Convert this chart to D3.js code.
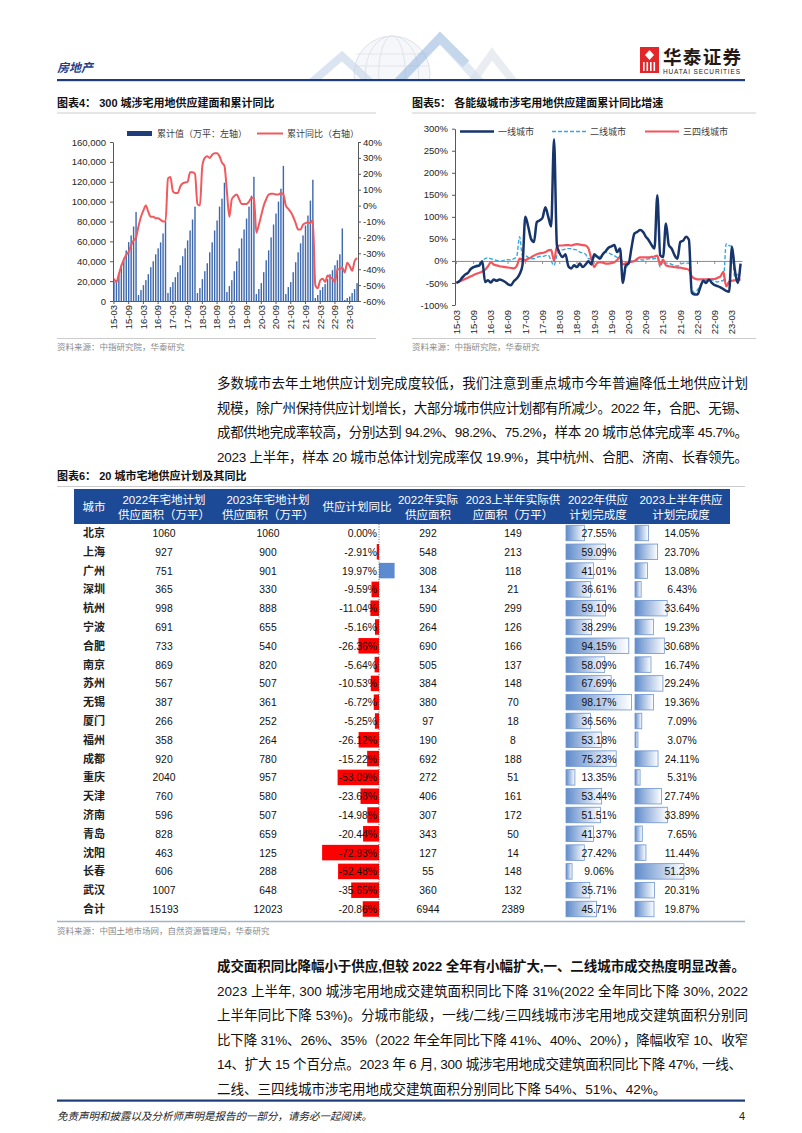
<!DOCTYPE html>
<html><head><meta charset="utf-8">
<script src="https://cdn.jsdelivr.net/npm/d3@7"></script>
<style>
html,body{margin:0;padding:0;background:#fff;}
svg{display:block;}
</style></head><body>
<svg id="page" width="802" height="1133"></svg>
<script>
// ---------- DATA ----------
const months = [];
for (let y = 15; y <= 23; y++) for (let m = 1; m <= 12; m++) {
  if ((y === 15 && m < 3) || (y === 23 && m > 6)) continue;
  months.push(y + "-" + String(m).padStart(2, "0"));
}
const tickLabels = ["15-03","15-09","16-03","16-09","17-03","17-09","18-03","18-09","19-03","19-09","20-03","20-09","21-03","21-09","22-03","22-09","23-03"];

// 图表4 累计值（万平）
const supplyCum = [
  19400,21000,28000,36500,43200,50900,59300,66000,75000,89500,
  6000,11000,16000,21000,27000,34000,40000,47000,53000,59000,68000,80000,
  8000,14000,19000,24000,29000,36000,45000,53000,61000,71000,82000,95000,
  8000,13000,22000,30000,38000,49000,59000,71000,81000,95000,103000,119000,
  9000,15000,21000,30000,40000,53000,63000,72000,83000,95000,106000,125000,
  7000,12000,18000,29000,41000,51000,64000,77000,88000,100000,113000,136000,
  7000,14000,19000,29000,39000,49000,58000,66000,76000,86000,101000,122000,
  3000,6000,11000,14000,17000,22000,27000,31000,36000,41000,47000,73000,
  1000,3000,4500,8000,12000,18000
];
// 图表4 累计同比（%）
const yoyCum = [
  -46,-48,-43,-38,-34,-31,-29,-25,-22,-20,
  -13,-7,-3,0,-4,-7,-7,-8,-8,-9,
  -10,-10,17,18,9,8,8,12,14,14.5,
  15,21,21,20,1,0,25,30,31,30,
  32,33,33,31,27,25,9,-7,4,6,
  7,4,1,1,1,2.5,5,5,-17,-12,
  -6,0,4,7,7.5,7.5,7,7,8,7,
  0,-2,-4,-7,-11,-15,-15,-12,-11,-10.5,
  -11,-9,-50,-52,-47,-46,-48,-44,-45,-46,
  -48,-40,-40,-39,-42,-36,-38,-41,-35,-33
];
// 图表5 (%)
const tier1 = [
  -50,-46,-38,-31,-27,-18,-14,-12,-10,-1,
  -48,-44,-49,-42,-45,-42,-44,-48,-53,-55,
  -46,-40,-30,-10,100,78,50,43,88,92,
  98,122,100,78,276,36,17,9,15,-12,
  -17,-10,-14,-6,-14,-8,-1,-8,15,10,
  5,15,22,30,33,36,20,28,-50,-10,
  -6,30,62,66,70,66,55,47,36,28,
  149,13,9,85,36,28,13,5,43,46,
  55,48,-72,-76,-76,-59,-45,-50,-42,-50,
  -55,-57,-60,-64,-68,-70,32,-20,-50,-6
];
const tier2 = [
  -50,-46,-40,-33,-27,-20,-14,-10,-5,0,
  5,7,5,3,1,0,0,2,3,2,
  5,10,55,12,12,8,5,5,8,10,
  10,12,13,0,-10,12,25,25,27,28,
  28,26,25,20,18,15,5,5,8,12,
  10,15,20,18,15,12,8,12,-48,-20,
  -5,0,0,2,3,2,3,5,5,5,
  8,-14,0,-5,-5,-8,-10,-12,-8,-5,
  -5,-5,-63,-72,-65,-55,-48,-45,-45,-43,
  -45,-48,-45,-45,39,35,33,-38,-30,-27
];
const tier34 = [
  -50,-47,-44,-41,-38,-35,-32,-29,-27,-24,
  -20,-12,-3,-8,-10,-12,-13,-14,-15,-16,
  -17,-12,5,3,2,5,8,12,15,17,
  18,20,24,25,0,33,35,35,36,36,
  35,37,38,37,36,35,28,5,-14,-5,
  -3,-4,-6,-6,-5,-3,2,9,-8,-5,
  -3,-2,0,5,8,8,8,8,9,10,
  12,-9,3,-10,-12,-13,-14,-15,-15,-17,
  -18,-20,-35,-40,-42,-42,-42,-42,-42,-41,
  -41,-38,-35,-25,-58,-47,-45,-44,-43,-42
];

// 图表6
const cities = ["北京","上海","广州","深圳","杭州","宁波","合肥","南京","苏州","无锡","厦门","福州","成都","重庆","天津","济南","青岛","沈阳","长春","武汉","合计"];
const plan2022 = [1060,927,751,365,998,691,733,869,567,387,266,358,920,2040,760,596,828,463,606,1007,15193];
const plan2023 = [1060,900,901,330,888,655,540,820,507,361,252,264,780,957,580,507,659,125,288,648,12023];
const planYoY = [0.00,-2.91,19.97,-9.59,-11.04,-5.16,-26.36,-5.64,-10.53,-6.72,-5.25,-26.12,-15.22,-53.09,-23.68,-14.98,-20.44,-72.93,-52.48,-35.65,-20.86];
const actual2022 = [292,548,308,134,590,264,690,505,384,380,97,190,692,272,406,307,343,127,55,360,6944];
const actual2023H1 = [149,213,118,21,299,126,166,137,148,70,18,8,188,51,161,172,50,14,148,132,2389];
const done2022 = [27.55,59.09,41.01,36.61,59.10,38.29,94.15,58.09,67.69,98.17,36.56,53.18,75.23,13.35,53.44,51.51,41.37,27.42,9.06,35.71,45.71];
const done2023H1 = [14.05,23.70,13.08,6.43,33.64,19.23,30.68,16.74,29.24,19.36,7.09,3.07,24.11,5.31,27.74,33.89,7.65,11.44,51.23,20.31,19.87];
const tableHeaders = [["城市"],["2022年宅地计划","供应面积（万平）"],["2023年宅地计划","供应面积（万平）"],["供应计划同比"],["2022年实际","供应面积"],["2023上半年实际供","应面积（万平）"],["2022年供应","计划完成度"],["2023上半年供应","计划完成度"]];

const para1 = [
  "多数城市去年土地供应计划完成度较低，我们注意到重点城市今年普遍降低土地供应计划",
  "规模，除广州保持供应计划增长，大部分城市供应计划都有所减少。2022 年，合肥、无锡、",
  "成都供地完成率较高，分别达到 94.2%、98.2%、75.2%，样本 20 城市总体完成率 45.7%。",
  "2023 上半年，样本 20 城市总体计划完成率仅 19.9%，其中杭州、合肥、济南、长春领先。"
];
const para2 = [
  "成交面积同比降幅小于供应,但较 2022 全年有小幅扩大,一、二线城市成交热度明显改善。",
  "2023 上半年, 300 城涉宅用地成交建筑面积同比下降 31%(2022 全年同比下降 30%, 2022",
  "上半年同比下降 53%)。分城市能级，一线/二线/三四线城市涉宅用地成交建筑面积分别同",
  "比下降 31%、26%、35%（2022 年全年同比下降 41%、40%、20%），降幅收窄 10、收窄",
  "14、扩大 15 个百分点。2023 年 6 月, 300 城涉宅用地成交建筑面积同比下降 47%, 一线、",
  "二线、三四线城市涉宅用地成交建筑面积分别同比下降 54%、51%、42%。"
];

// ---------- DRAW ----------
const LAT = '"Liberation Sans", Arial, "Noto Sans CJK SC", sans-serif';
const CJK = '"Liberation Sans", "Noto Sans CJK SC", sans-serif';
const svg = d3.select("#page");
svg.append("rect").attr("width",802).attr("height",1133).attr("fill","#fff");

const defs = svg.append("defs");
const gr = defs.append("linearGradient").attr("id","dbar").attr("x1","0").attr("x2","1").attr("y1","0").attr("y2","0");
gr.append("stop").attr("offset","0%").attr("stop-color","#5f8bcb");
gr.append("stop").attr("offset","100%").attr("stop-color","#ffffff");
defs.append("clipPath").attr("id","hdrclip").append("rect").attr("x",280).attr("y",20).attr("width",260).attr("height",59);

// header decoration
const deco = svg.append("g").attr("clip-path","url(#hdrclip)");
deco.append("circle").attr("cx",392).attr("cy",74).attr("r",38).attr("fill","#f6f7fa").attr("stroke","#dde1e8").attr("stroke-width",1);
[0.35,0.7].forEach(k=>deco.append("ellipse").attr("cx",392).attr("cy",74).attr("rx",38*k).attr("ry",38).attr("fill","none").attr("stroke","#e0e4ea"));
[-20,-8].forEach(dy=>deco.append("line").attr("x1",356).attr("x2",428).attr("y1",74+dy).attr("y2",74+dy).attr("stroke","#e2e5ea"));
deco.append("path").attr("d","M312,82 L342,56 L370,82").attr("fill","none").attr("stroke","#c3d4e8").attr("stroke-width",8).attr("opacity",0.6);
deco.append("path").attr("d","M398,82 L440,38 L466,64").attr("fill","none").attr("stroke","#8fb3dc").attr("stroke-width",9).attr("opacity",0.55);
deco.append("path").attr("d","M440,38 L480,82").attr("fill","none").attr("stroke","#c9d8ea").attr("stroke-width",9).attr("opacity",0.55);
deco.append("path").attr("d","M472,82 L492,54 L514,82").attr("fill","none").attr("stroke","#d7dee8").attr("stroke-width",8).attr("opacity",0.55);

svg.append("text").attr("x",57).attr("y",72).text("房地产")
  .style("font-family",CJK).style("font-size","12px").style("font-style","italic").style("font-weight","bold").attr("fill","#1f3f8f");
// logo
const logo = svg.append("g");
logo.append("rect").attr("x",640).attr("y",47).attr("width",19).attr("height",26).attr("fill","#e3262a");
logo.append("path").attr("d","M649.5,50 L654,55 L649.5,60 L645,55 Z").attr("fill","#fff");
[643,646.5,650,653.5].forEach(x=>logo.append("rect").attr("x",x).attr("y",62).attr("width",1.6).attr("height",9).attr("fill","#fff"));
logo.append("text").attr("x",663).attr("y",64).text("华泰证券").style("font-family",CJK).style("font-size","18.5px").style("font-weight","bold").attr("fill","#231815").attr("textLength",78);
logo.append("text").attr("x",663).attr("y",73.5).text("HUATAI SECURITIES").style("font-family",LAT).style("font-size","6.5px").attr("fill","#231815").attr("textLength",77);
svg.append("rect").attr("x",57).attr("y",79).attr("width",688).attr("height",2.2).attr("fill","#1f3c7a");

// titles
function title(x, y, t){
  svg.append("text").attr("x",x).attr("y",y).text(t)
    .style("font-family",CJK).style("font-size","11px").style("font-weight","bold").attr("fill","#111");
}
title(57,107,"图表4：  300 城涉宅用地供应建面和累计同比");
title(412,107,"图表5：  各能级城市涉宅用地供应建面累计同比增速");
svg.append("line").attr("x1",57).attr("x2",376).attr("y1",113).attr("y2",113).attr("stroke","#bfbfbf").attr("stroke-width",0.8);
svg.append("line").attr("x1",412).attr("x2",756).attr("y1",113).attr("y2",113).attr("stroke","#bfbfbf").attr("stroke-width",0.8);
svg.append("line").attr("x1",57).attr("x2",376).attr("y1",338.5).attr("y2",338.5).attr("stroke","#bfbfbf").attr("stroke-width",0.8);
svg.append("line").attr("x1",412).attr("x2",756).attr("y1",338.5).attr("y2",338.5).attr("stroke","#bfbfbf").attr("stroke-width",0.8);
function source(x,y,t){
  svg.append("text").attr("x",x).attr("y",y).text(t).style("font-family",CJK).style("font-size","8.5px").attr("fill","#8a8a8a");
}
source(57,350,"资料来源：中指研究院，华泰研究");
source(412,350,"资料来源：中指研究院，华泰研究");

function styleAxis(g){
  g.selectAll("path.domain").attr("stroke","#595959");
  g.selectAll(".tick line").attr("stroke","#595959");
  g.selectAll(".tick text").style("font-family",LAT).style("font-size","9.5px").attr("fill","#262626");
}

// ---------- Chart 4 ----------
const c4 = svg.append("g");
const x4 = d3.scaleBand().domain(months).range([113,358]).paddingInner(0.42).paddingOuter(0.1);
const yL = d3.scaleLinear().domain([0,160000]).range([301,142]);
const yR = d3.scaleLinear().domain([-60,40]).range([301,142]);
c4.selectAll("rect.bar").data(supplyCum).join("rect").attr("class","bar")
  .attr("x",(d,i)=>x4(months[i])).attr("y",d=>yL(d))
  .attr("width",x4.bandwidth()).attr("height",d=>yL(0)-yL(d)).attr("fill","#3f69ad");
c4.append("path").datum(yoyCum)
  .attr("d",d3.line().x((d,i)=>x4(months[i])+x4.bandwidth()/2).y(d=>yR(d)).curve(d3.curveMonotoneX))
  .attr("fill","none").attr("stroke","#f05a5f").attr("stroke-width",2);
const axL4 = c4.append("g").attr("transform","translate(113,0)")
  .call(d3.axisLeft(yL).tickValues(d3.range(0,160001,20000)).tickFormat(d3.format(",")).tickSize(3).tickSizeOuter(0).tickPadding(4));
styleAxis(axL4);
const axR4 = c4.append("g").attr("transform","translate(358,0)")
  .call(d3.axisRight(yR).tickValues(d3.range(-60,41,10)).tickFormat(d=>d+"%").tickSize(3).tickSizeOuter(0).tickPadding(2));
styleAxis(axR4);
const axB4 = c4.append("g").attr("transform","translate(0,301)")
  .call(d3.axisBottom(x4).tickValues(tickLabels).tickSize(3).tickSizeOuter(0));
styleAxis(axB4);
axB4.selectAll(".tick text").attr("transform","rotate(-90)").attr("text-anchor","end").attr("x",-4).attr("y",0).attr("dy","0.35em");
// legend 4
c4.append("rect").attr("x",127).attr("y",131).attr("width",25).attr("height",5).attr("fill","#1f3d78");
c4.append("text").attr("x",157).attr("y",136.5).text("累计值（万平：左轴）").style("font-family",CJK).style("font-size","9px").attr("fill","#404040");
c4.append("line").attr("x1",257).attr("x2",283).attr("y1",133.5).attr("y2",133.5).attr("stroke","#f05a5f").attr("stroke-width",2);
c4.append("text").attr("x",287).attr("y",136.5).text("累计同比（右轴）").style("font-family",CJK).style("font-size","9px").attr("fill","#404040");

// ---------- Chart 5 ----------
const c5 = svg.append("g");
const x5 = d3.scaleBand().domain(months).range([455,742]);
const y5 = d3.scaleLinear().domain([-100,300]).range([305,128.7]);
const cx5 = (d,i)=>x5(months[i])+x5.bandwidth()/2;
const axL5 = c5.append("g").attr("transform","translate(455,0)")
  .call(d3.axisLeft(y5).tickValues(d3.range(-100,301,50)).tickFormat(d=>d+"%").tickSize(3).tickSizeOuter(0).tickPadding(4));
styleAxis(axL5);
const axB5 = c5.append("g").attr("transform","translate(0,"+y5(0)+")")
  .call(d3.axisBottom(x5).tickValues(tickLabels).tickSize(3).tickSizeOuter(0));
axB5.selectAll("path.domain").attr("stroke","#8c8c8c");
axB5.selectAll(".tick line").attr("stroke","#8c8c8c");
axB5.selectAll(".tick text").style("font-family",LAT).style("font-size","9.5px").attr("fill","#262626")
  .attr("transform","rotate(-90)").attr("text-anchor","end")
  .attr("x",-(305-y5(0)+5)).attr("y",0).attr("dy","0.35em");
const ln5 = d3.line().x(cx5).y(d=>y5(d)).curve(d3.curveMonotoneX);
c5.append("path").datum(tier2).attr("d",ln5).attr("fill","none").attr("stroke","#35a8e0").attr("stroke-width",1.4).attr("stroke-dasharray","4,2");
c5.append("path").datum(tier34).attr("d",ln5).attr("fill","none").attr("stroke","#f4545c").attr("stroke-width",2.2);
c5.append("path").datum(tier1).attr("d",ln5).attr("fill","none").attr("stroke","#17356a").attr("stroke-width",2.5);
// legend 5
const lg5 = [["一线城市","#17356a",2.5,null,460],["二线城市","#35a8e0",1.4,"4,2",552],["三四线城市","#f4545c",2.2,null,645]];
lg5.forEach(([t,c,w,da,x])=>{
  const l = c5.append("line").attr("x1",x).attr("x2",x+34).attr("y1",131.5).attr("y2",131.5).attr("stroke",c).attr("stroke-width",w);
  if (da) l.attr("stroke-dasharray",da);
  c5.append("text").attr("x",x+38).attr("y",134.8).text(t).style("font-family",CJK).style("font-size","9px").attr("fill","#404040");
});

// ---------- Paragraphs ----------
function para(lines, x, y0, step, widths, bold){
  lines.forEach((t,i)=>{
    const el = svg.append("text").attr("x",x).attr("y",y0+i*step).text(t)
      .style("font-family",CJK).style("font-size","13.5px").attr("fill","#111");
    if (widths[i]) el.attr("textLength",widths[i]).attr("lengthAdjust","spacing");
    if (bold && i===0) el.style("font-weight","bold");
  });
}
para(para1, 217, 388, 24.6, [531,531,531,531], false);
para(para2, 217, 971, 24.5, [528,531,531,531,525,null], true);

// ---------- Table ----------
title(57,480,"图表6：  20 城市宅地供应计划及其同比");
svg.append("line").attr("x1",57).attr("x2",745).attr("y1",486.5).attr("y2",486.5).attr("stroke","#bfbfbf").attr("stroke-width",0.8);
const tb = svg.append("g");
tb.append("rect").attr("x",74).attr("y",489).attr("width",656).attr("height",35).attr("fill","#1d4a97");
const colX = [94,164,268,357,428,513,598,681];
tableHeaders.forEach((h,i)=>{
  h.forEach((t,j)=>{
    const yy = h.length===1 ? 511 : 503.5 + j*15.5;
    tb.append("text").attr("x",colX[i]).attr("y",yy).attr("text-anchor","middle").text(t)
      .style("font-family",CJK).style("font-size","11.5px").attr("fill","#fff");
  });
});
const rowY = d3.scaleBand().domain(cities).range([523.6,918.4]);
const rc = c => rowY(c)+rowY.bandwidth()/2;
const xYoY = d3.scaleLinear().domain([-100,100]).range([301,457]);
const xD22 = d3.scaleLinear().domain([0,100]).range([566,632.7]);
const xD23 = d3.scaleLinear().domain([0,100]).range([635,730.5]);
const bh = 15.5;
// yoy bars
tb.selectAll("rect.yoy").data(planYoY).join("rect").attr("class","yoy")
  .attr("x",d=>Math.min(xYoY(d),xYoY(0))).attr("y",(d,i)=>rc(cities[i])-bh/2)
  .attr("width",d=>Math.abs(xYoY(d)-xYoY(0))).attr("height",bh)
  .attr("fill",d=>d<0?"#ff0000":"#5b8ad0");
tb.append("line").attr("x1",xYoY(0)).attr("x2",xYoY(0)).attr("y1",524).attr("y2",919).attr("stroke","#444").attr("stroke-width",0.8).attr("stroke-dasharray","1,1.5");
// completion bars
[[done2022,xD22],[done2023H1,xD23]].forEach(([arr,sc])=>{
  tb.selectAll(null).data(arr).join("rect")
    .attr("x",sc(0)).attr("y",(d,i)=>rc(cities[i])-bh/2)
    .attr("width",d=>sc(d)-sc(0)).attr("height",bh)
    .attr("fill","url(#dbar)").attr("stroke","#6d94cf").attr("stroke-width",0.8);
});
function num(x,y,t,anchor){
  tb.append("text").attr("transform",`translate(${x},${y}) scale(0.9,1)`).attr("text-anchor",anchor).text(t)
    .style("font-family",LAT).style("font-size","11.5px").attr("fill","#111");
}
cities.forEach((c,i)=>{
  const y = rc(c)+4;
  tb.append("text").attr("x",colX[0]).attr("y",y).attr("text-anchor","middle").text(c)
    .style("font-family",CJK).style("font-size","11px").style("font-weight","bold").attr("fill","#222");
  num(colX[1],y,String(plan2022[i]),"middle");
  num(colX[2],y,String(plan2023[i]),"middle");
  num(377,y,planYoY[i].toFixed(2)+"%","end");
  num(colX[4],y,String(actual2022[i]),"middle");
  num(colX[5],y,String(actual2023H1[i]),"middle");
  num(599,y,done2022[i].toFixed(2)+"%","middle");
  num(682,y,done2023H1[i].toFixed(2)+"%","middle");
});
svg.append("line").attr("x1",57).attr("x2",745).attr("y1",921.5).attr("y2",921.5).attr("stroke","#9fb2cf").attr("stroke-width",1.5);
source(57,934,"资料来源：中国土地市场网，自然资源管理局，华泰研究");

// ---------- Footer ----------
svg.append("rect").attr("x",57).attr("y",1099.5).attr("width",688).attr("height",2.2).attr("fill","#1f3c7a");
svg.append("text").attr("x",57).attr("y",1120).text("免责声明和披露以及分析师声明是报告的一部分，请务必一起阅读。")
  .style("font-family",CJK).style("font-size","10.5px").style("font-style","italic").attr("fill","#222");
svg.append("text").attr("x",745).attr("y",1120).attr("text-anchor","end").text("4")
  .style("font-family",LAT).style("font-size","11px").attr("fill","#222");
</script>
</body></html>
